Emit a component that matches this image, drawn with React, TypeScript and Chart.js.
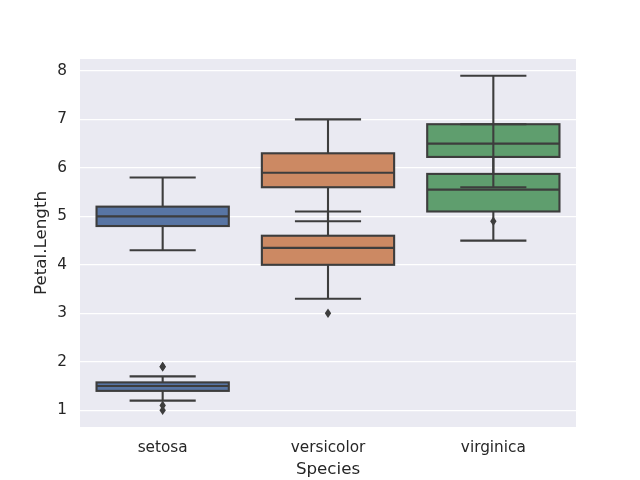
import React, { useEffect, useRef } from "react";
import { Chart, registerables } from "chart.js";

Chart.register(...registerables);

const categories = ["setosa", "versicolor", "virginica"];
const boxColors = ["#5875a4", "#cc8963", "#5f9e6e"];
const yTicks = [1, 2, 3, 4, 5, 6, 7, 8];

const petalQ1 = [1.4, 4.0, 5.1];
const petalMed = [1.5, 4.35, 5.55];
const petalQ3 = [1.575, 4.6, 5.875];
const petalLo = [1.2, 3.3, 4.5];
const petalHi = [1.7, 5.1, 6.9];
const petalOut = [[1.0, 1.1, 1.9, 1.9], [3.0], []];

const sepalQ1 = [4.8, 5.6, 6.225];
const sepalMed = [5.0, 5.9, 6.5];
const sepalQ3 = [5.2, 6.3, 6.9];
const sepalLo = [4.3, 4.9, 5.6];
const sepalHi = [5.8, 7.0, 7.9];
const sepalOut = [[], [], [4.9]];

const LINE = "#3d3d3d";
const LW = 2.1;

const groups = [
  { q1: petalQ1, med: petalMed, q3: petalQ3, lo: petalLo, hi: petalHi, out: petalOut },
  { q1: sepalQ1, med: sepalMed, q3: sepalQ3, lo: sepalLo, hi: sepalHi, out: sepalOut },
];

const bgPlugin = {
  id: "bg",
  beforeDraw(chart: any) {
    const { ctx, chartArea } = chart;
    ctx.save();
    ctx.fillStyle = "#eaeaf2";
    ctx.fillRect(chartArea.left, chartArea.top, chartArea.right - chartArea.left, chartArea.bottom - chartArea.top);
    ctx.restore();
  },
};

const boxLinesPlugin = {
  id: "boxLines",
  afterDatasetsDraw(chart: any) {
    const { ctx } = chart;
    const ys = chart.scales.y;
    ctx.save();
    ctx.strokeStyle = LINE;
    ctx.fillStyle = LINE;
    ctx.lineWidth = LW;
    ctx.lineCap = "butt";
    ctx.lineJoin = "miter";
    // box edges, centred on the box outline
    groups.forEach((g, gi) => {
      const meta = chart.getDatasetMeta(gi);
      categories.forEach((_, i) => {
        const bar = meta.data[i];
        const top = ys.getPixelForValue(g.q3[i]);
        const bot = ys.getPixelForValue(g.q1[i]);
        ctx.strokeRect(bar.x - bar.width / 2, top, bar.width, bot - top);
      });
    });
    groups.forEach((g, gi) => {
      const meta = chart.getDatasetMeta(gi);
      categories.forEach((_, i) => {
        const bar = meta.data[i];
        const x = bar.x;
        const w = bar.width;
        const line = (x1: number, y1: number, x2: number, y2: number) => {
          ctx.beginPath();
          ctx.moveTo(x1, y1);
          ctx.lineTo(x2, y2);
          ctx.stroke();
        };
        const pq1 = ys.getPixelForValue(g.q1[i]);
        const pq3 = ys.getPixelForValue(g.q3[i]);
        const plo = ys.getPixelForValue(g.lo[i]);
        const phi = ys.getPixelForValue(g.hi[i]);
        const pm = ys.getPixelForValue(g.med[i]);
        line(x, pq3, x, phi);
        line(x, pq1, x, plo);
        line(x - w / 4, phi, x + w / 4, phi);
        line(x - w / 4, plo, x + w / 4, plo);
        line(x - w / 2, pm, x + w / 2, pm);
        g.out[i].forEach((v) => {
          const py = ys.getPixelForValue(v);
          ctx.beginPath();
          ctx.moveTo(x, py - 4.8);
          ctx.lineTo(x + 3.2, py);
          ctx.lineTo(x, py + 4.8);
          ctx.lineTo(x - 3.2, py);
          ctx.closePath();
          ctx.fill();
        });
      });
    });
    ctx.restore();
  },
};

export default function App() {
  const ref = useRef<HTMLCanvasElement>(null);
  useEffect(() => {
    if (!ref.current) return;
    const mk = (g: any) => categories.map((_, i) => [g.q1[i], g.q3[i]]);
    const chart = new Chart(ref.current, {
      type: "bar",
      data: {
        labels: categories,
        datasets: groups.map((g) => ({
          data: mk(g) as any,
          backgroundColor: boxColors,
          borderWidth: 0,
          grouped: false,
          barPercentage: 0.8,
          categoryPercentage: 1,
        })),
      },
      options: {
        animation: false,
        responsive: true,
        maintainAspectRatio: false,
        layout: { padding: { top: 59, right: 64, left: 32, bottom: 0 } },
        plugins: { legend: { display: false }, tooltip: { enabled: false } },
        scales: {
          x: {
            type: "category",
            grid: { display: false },
            border: { display: false },
            ticks: { color: "#262626", font: { family: "DejaVu Sans", size: 15.3 }, padding: 4 },
            title: {
              display: true,
              text: "Species",
              color: "#262626",
              font: { family: "DejaVu Sans", size: 16.7 },
              padding: { top: 4, bottom: 0 },
            },
            afterFit(s: any) {
              s.height = 53;
            },
          },
          y: {
            type: "linear",
            min: 0.655,
            max: 8.245,
            grid: { color: "#ffffff", lineWidth: 1.3, drawTicks: false },
            border: { display: false },
            ticks: { color: "#262626", font: { family: "DejaVu Sans", size: 15.3 }, padding: 13 },
            afterBuildTicks(s: any) {
              s.ticks = yTicks.map((v) => ({ value: v }));
            },
            title: {
              display: true,
              text: "Petal.Length",
              color: "#262626",
              font: { family: "DejaVu Sans", size: 16.7 },
              padding: { top: 0, bottom: 0 },
            },
            afterFit(s: any) {
              s.width = 48;
            },
          },
        },
      },
      plugins: [bgPlugin, boxLinesPlugin],
    });
    return () => chart.destroy();
  }, []);
  return (
    <div style={{ position: "absolute", left: 0, top: 0, width: 640, height: 480, background: "#fff" }}>
      <canvas ref={ref} />
    </div>
  );
}
